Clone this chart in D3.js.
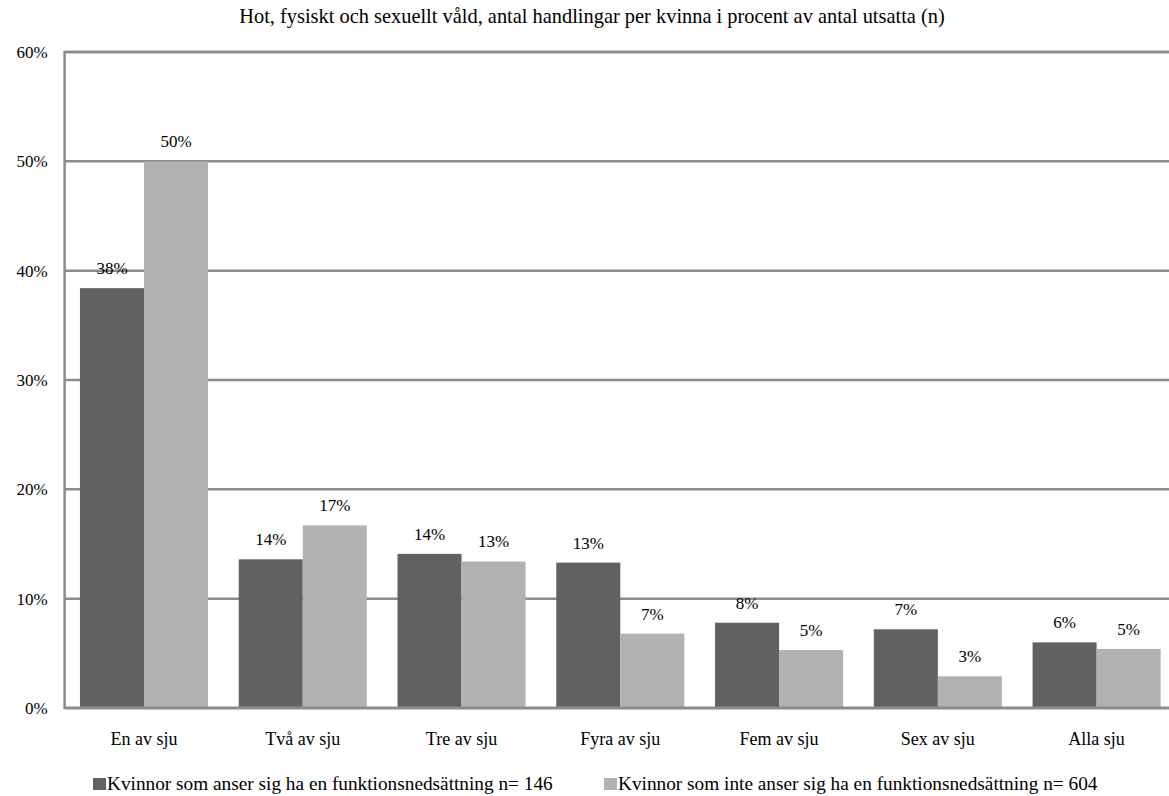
<!DOCTYPE html>
<html><head><meta charset="utf-8">
<script src="https://cdn.jsdelivr.net/npm/d3@7"></script>
<style>body{margin:0;background:#fff}svg{display:block}</style>
</head><body><svg id="c" width="1169" height="796" font-family="Liberation Serif"></svg>
<script>
const categories = ["En av sju","Två av sju","Tre av sju","Fyra av sju","Fem av sju","Sex av sju","Alla sju"];
const seriesNames = ["Kvinnor som anser sig ha en funktionsnedsättning n= 146","Kvinnor som inte anser sig ha en funktionsnedsättning n= 604"];
const withDisability = [0.384,0.136,0.141,0.133,0.078,0.072,0.060];
const withoutDisability = [0.500,0.167,0.134,0.068,0.053,0.029,0.054];
const yTicks = [0,0.1,0.2,0.3,0.4,0.5,0.6];
const chartTitle = "Hot, fysiskt och sexuellt våld, antal handlingar per kvinna i procent av antal utsatta (n)";
const colors = ["#616161","#b2b2b2"];

(function(){
const FONT = "Liberation Serif";
const svg = d3.select("#c");
function serif(sel, size){ sel.attr("font-family",FONT).attr("font-size",size).style("font-family",'"Liberation Serif"').style("font-size",size+"px").attr("fill","#000"); return sel; }
const pLeft = 64.6, pRight = 1176, pTop = 52, pBottom = 708;
const x = d3.scaleBand().domain(categories).range([pLeft, pRight]).paddingInner(0).paddingOuter(0);
const inner = d3.scaleBand().domain([0,1]).range([0, x.bandwidth()]).paddingInner(0).paddingOuter(0.24);
const y = d3.scaleLinear().domain([0,0.6]).range([pBottom, pTop]);
const fmt = d3.format(".0%");

serif(svg.append("text").attr("x",592).attr("y",23).attr("text-anchor","middle"),20.4).text(chartTitle);

svg.append("g").selectAll("line").data(yTicks.filter(d=>d>0)).join("line")
  .attr("x1",pLeft).attr("x2",1169).attr("y1",d=>y(d)).attr("y2",d=>y(d))
  .attr("stroke","#8c8c8c").attr("stroke-width",2.5);

const yAxis = d3.axisLeft(y).tickValues(yTicks).tickFormat(fmt).tickSize(0).tickPadding(17);
const ga = svg.append("g").attr("transform",`translate(${pLeft},0)`).call(yAxis);
ga.select(".domain").remove();
ga.attr("font-family",FONT).attr("font-size",17);
serif(ga.selectAll("text"),17);

const data = categories.map((c,i)=>({c, vals:[withDisability[i], withoutDisability[i]]}));
const groups = svg.append("g").attr("font-family",FONT).selectAll("g").data(data).join("g")
  .attr("font-family",FONT).attr("transform",d=>`translate(${x(d.c)},0)`);
groups.selectAll("rect").data(d=>d.vals.map((v,k)=>({v,k}))).join("rect")
  .attr("x",d=>inner(d.k)).attr("width",inner.bandwidth())
  .attr("y",d=>y(d.v)).attr("height",d=>pBottom-y(d.v)).attr("fill",d=>colors[d.k]);
serif(groups.selectAll("text").data(d=>d.vals.map((v,k)=>({v,k}))).join("text")
  .attr("x",d=>inner(d.k)+inner.bandwidth()/2).attr("y",d=>y(d.v)-14)
  .attr("text-anchor","middle"),17).text(d=>fmt(d.v));

svg.append("line").attr("x1",pLeft).attr("x2",pLeft).attr("y1",pTop-1).attr("y2",pBottom+1).attr("stroke","#8c8c8c").attr("stroke-width",2.5);
svg.append("line").attr("x1",pLeft).attr("x2",1169).attr("y1",pTop).attr("y2",pTop).attr("stroke","#8c8c8c").attr("stroke-width",2.5);
svg.append("line").attr("x1",pLeft).attr("x2",1169).attr("y1",pBottom).attr("y2",pBottom).attr("stroke","#8c8c8c").attr("stroke-width",3);

const xAxis = d3.axisBottom(x).tickSize(0).tickPadding(24);
const gx = svg.append("g").attr("transform",`translate(0,${pBottom})`).call(xAxis);
gx.select(".domain").remove();
gx.attr("font-family",FONT).attr("font-size",18);
serif(gx.selectAll("text"),18);

const legX = [93, 604];
const lg = svg.append("g").attr("font-family",FONT).selectAll("g").data(seriesNames).join("g")
  .attr("font-family",FONT).attr("transform",(d,i)=>`translate(${legX[i]},778)`);
lg.append("rect").attr("width",13).attr("height",12).attr("fill",(d,i)=>colors[i]);
serif(lg.append("text").attr("x",14).attr("y",12),19.3).text(d=>d);
})();
</script></body></html>
